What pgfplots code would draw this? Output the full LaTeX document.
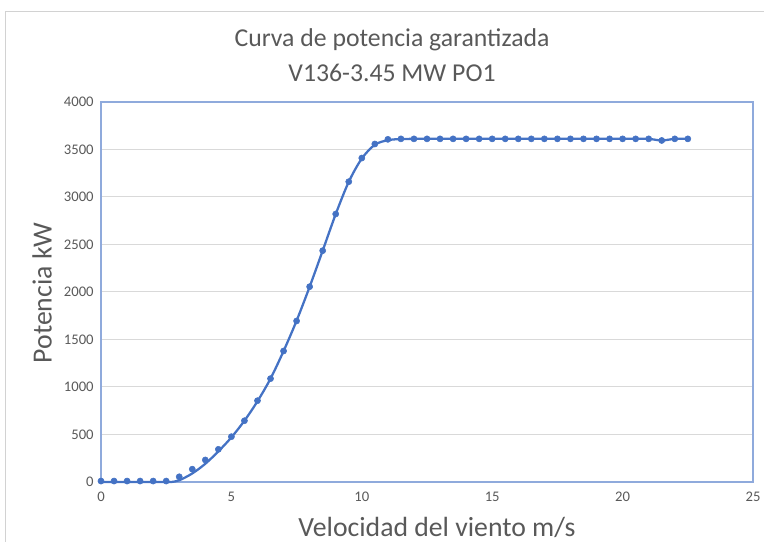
\documentclass[border=0pt]{standalone}
\usepackage{pgfplots}
\pgfplotsset{compat=1.18}
\usepackage{fontspec}
\setmainfont{Carlito}
\definecolor{exblue}{HTML}{4472C4}
\definecolor{frameblue}{HTML}{8FAADC}
\definecolor{gridgray}{HTML}{D9D9D9}
\definecolor{txtgray}{HTML}{595959}
\begin{document}
\begin{tikzpicture}[x=0.75pt,y=0.75pt]
\useasboundingbox (0,0) rectangle (764,542);
\draw[gray!35, line width=0.75pt] (5,0) -- (5,530) -- (764,530);
\node[txtgray, font=\fontsize{19.3}{23}\selectfont] at (392,502) {Curva de potencia garantizada};
\node[txtgray, font=\fontsize{19.3}{23}\selectfont] at (392,469) {V136-3.45 MW PO1};
\node[txtgray, font=\fontsize{20.8}{24}\selectfont, rotate=90] at (42,249) {Potencia kW};
\node[txtgray, font=\fontsize{20.8}{24}\selectfont] at (437,15) {Velocidad del viento m/s};
\begin{axis}[
  at={(75.75pt,45pt)}, anchor=south west,
  scale only axis, width=489pt, height=285pt,
  xmin=0, xmax=25, ymin=0, ymax=4000,
  xtick={0,5,10,15,20,25}, ytick={0,500,...,4000},
  major tick length=0pt,
  ymajorgrids, grid style={gridgray, line width=0.75pt},
  axis line style={frameblue, line width=1pt},
  tick label style={txtgray, font=\fontsize{11}{13}\selectfont},
  /pgf/number format/assume math mode=true,
  /pgf/number format/1000 sep={},
  xticklabel style={yshift=-4pt},
  yticklabel style={xshift=-2pt},
  clip=false,
]
\addplot[exblue, line width=1.7pt, smooth, tension=0.5, no marks] coordinates {
(0,0)(0.5,0)(1,0)(1.5,0)(2,0)(2.5,0)(2.7,0)(3,18)(3.5,90)(4,192)(4.5,322)(5,470)(5.5,645)(6,850)(6.5,1088)(7,1378)(7.5,1698)(8,2055)(8.5,2435)(9,2820)(9.5,3160)(10,3405)(10.5,3550)(11,3598)(11.5,3610)(12,3612)(12.5,3612)(13,3612)(13.5,3612)(14,3612)(14.5,3612)(15,3612)(15.5,3612)(16,3612)(16.5,3612)(17,3612)(17.5,3612)(18,3612)(18.5,3612)(19,3612)(19.5,3612)(20,3612)(20.5,3612)(21,3612)(21.5,3595)(22,3612)(22.5,3612)
};
\addplot[only marks, mark=*, mark size=2.3pt, exblue] coordinates {
(0,10)(0.5,10)(1,10)(1.5,10)(2,10)(2.5,10)(3,55)(3.5,135)(4,232)(4.5,344)(5,477)(5.5,645)(6,856)(6.5,1088)(7,1379)(7.5,1695)(8,2056)(8.5,2435)(9,2821)(9.5,3161)(10,3410)(10.5,3558)(11,3607)(11.5,3612)(12,3612)(12.5,3612)(13,3612)(13.5,3612)(14,3612)(14.5,3612)(15,3612)(15.5,3612)(16,3612)(16.5,3612)(17,3612)(17.5,3612)(18,3612)(18.5,3612)(19,3612)(19.5,3612)(20,3612)(20.5,3612)(21,3612)(21.5,3595)(22,3612)(22.5,3612)
};
\end{axis}
\end{tikzpicture}
\end{document}
